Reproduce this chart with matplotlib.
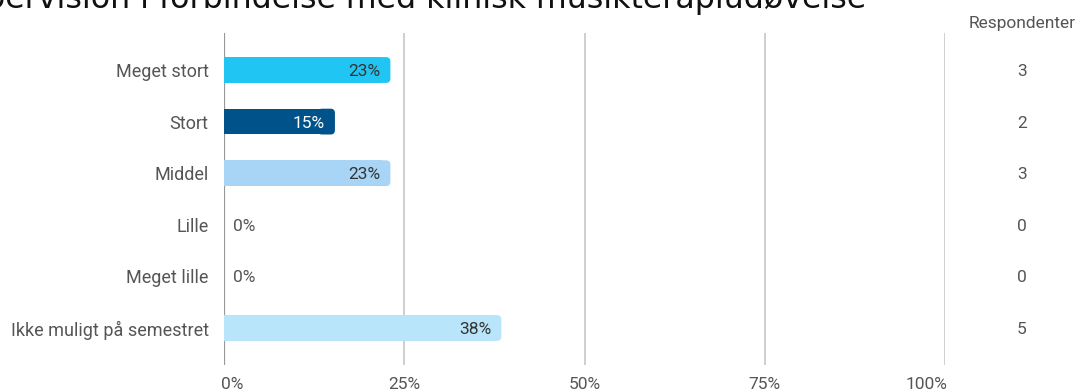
import numpy as np
import matplotlib.pyplot as plt
from matplotlib.patches import FancyBboxPatch
from matplotlib.transforms import blended_transform_factory

categories = ['Meget stort', 'Stort', 'Middel', 'Lille', 'Meget lille', 'Ikke muligt på semestret']
counts = [3, 2, 3, 0, 0, 5]
colors = ['#21c5f3', '#00528a', '#a8d4f5', '#a8d4f5', '#a8d4f5', '#b9e5fa']
label_colors = ['#333333', '#ffffff', '#333333', '#555555', '#555555', '#333333']
ticks = [0, 25, 50, 75, 100]
title = 'Supervision i forbindelse med klinisk musikterapiudøvelse'

plt.rcParams['font.family'] = ['Roboto', 'DejaVu Sans']

share = np.array(counts) / sum(counts) * 100
y = np.arange(len(categories))

fig = plt.figure(figsize=(10.8, 3.91), dpi=100)
ax = fig.add_axes([224 / 1080, 1 - 365 / 391, 721 / 1080, 332 / 391])

bars = ax.barh(y, share, height=0.5, color='none')
# rounded right end, square left end
r = 0.6
for b, c in zip(bars, colors):
    if b.get_width() <= 0:
        continue
    x0, y0, w, h = b.get_x(), b.get_y(), b.get_width(), b.get_height()
    ax.add_patch(plt.Rectangle((x0, y0), w - 2 * r, h, color=c, lw=0, zorder=3))
    ax.add_patch(FancyBboxPatch((x0 + w - 4 * r, y0), 4 * r, h,
                                boxstyle='round,pad=0,rounding_size=%g' % r,
                                mutation_aspect=0.14, color=c, lw=0, zorder=3))

for i, v in enumerate(share):
    txt = '%d%%' % round(v)
    if v > 0:
        ax.text(v - 1.4, i, txt, ha='right', va='center_baseline', fontsize=12.5,
                color=label_colors[i], zorder=4)
    else:
        ax.text(1.3, i, txt, ha='left', va='center_baseline', fontsize=12.5,
                color=label_colors[i], zorder=4)

ax.set_xlim(0, 100)
ax.set_ylim(len(categories) - 0.283, -0.717)
ax.set_yticks(y)
ax.set_yticklabels(categories, fontsize=13, color='#555555', va='center_baseline')
ax.set_xticks(ticks)
ax.set_xticklabels([])
ax.tick_params(length=0)
ax.tick_params(axis='y', pad=11)
for t in ticks:
    ax.axvline(t, color='#999999' if t == 0 else '#cccccc', lw=1.6 if t == 0 else 1.3, zorder=1)
for s in ax.spines.values():
    s.set_visible(False)

# x tick labels: first left aligned, last right aligned
xt = blended_transform_factory(ax.transData, fig.transFigure)
for t in ticks:
    ha = 'left' if t == 0 else ('right' if t == 100 else 'center')
    xp = t - 0.4 if t == 0 else (t + 0.3 if t == 100 else t)
    ax.text(xp, 1 - 383 / 391, '%d%%' % t, transform=xt,
            ha=ha, va='center_baseline', fontsize=12.5, color='#555555')

# respondenter column
fig.text(1022 / 1080, 1 - 22 / 391, 'Respondenter', ha='center', va='center_baseline',
         fontsize=12.5, color='#555555')
ct = blended_transform_factory(fig.transFigure, ax.transData)
for i, c in enumerate(counts):
    ax.text(1022 / 1080, i, str(c), transform=ct,
            ha='center', va='center_baseline', fontsize=12.5, color='#555555')

fig.text(866 / 1080, 1 - 8 / 391, title, ha='right', va='baseline',
         fontsize=22.8, color='#111111', family='DejaVu Sans')

fig.savefig('out.png', dpi=100)
